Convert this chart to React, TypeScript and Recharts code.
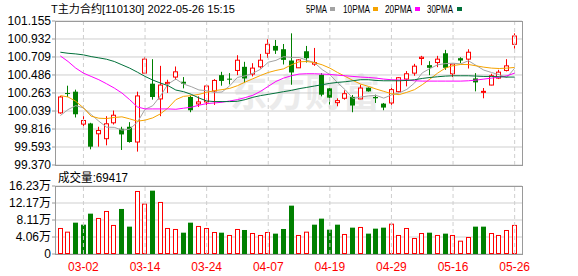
import React from 'react';
import { ComposedChart, BarChart, Bar, Line, XAxis, YAxis, CartesianGrid, ReferenceLine } from 'recharts';

const dates = ['02-25','02-28','03-01','03-02','03-03','03-04','03-07','03-08','03-09','03-10','03-11','03-14','03-15','03-16','03-17','03-18','03-21','03-22','03-23','03-24','03-25','03-28','03-29','03-30','03-31','04-01','04-06','04-07','04-08','04-11','04-12','04-13','04-14','04-15','04-18','04-19','04-20','04-21','04-22','04-25','04-26','04-27','04-28','04-29','05-05','05-06','05-09','05-10','05-11','05-12','05-13','05-16','05-17','05-18','05-19','05-20','05-23','05-24','05-25','05-26'];

const opens = [100.016,100.262,100.279,99.877,99.885,99.757,99.696,99.893,99.819,99.844,99.655,100.509,100.378,100.189,100.378,100.460,100.402,100.213,100.127,100.152,100.287,100.484,100.440,100.542,100.587,100.497,100.587,100.755,100.846,100.805,100.665,100.575,100.780,100.620,100.488,100.320,100.143,100.197,100.213,100.189,100.328,100.213,100.131,100.139,100.279,100.435,100.509,100.690,100.608,100.640,100.755,100.501,100.694,100.682,100.443,100.275,100.361,100.447,100.542,100.866];
const highs = [100.225,100.353,100.304,99.975,99.893,99.844,99.975,100.045,99.844,99.901,100.279,100.706,100.682,100.599,100.427,100.591,100.460,100.230,100.222,100.369,100.435,100.525,100.509,100.731,100.649,100.632,100.747,100.928,100.920,100.870,101.002,100.682,100.846,100.821,100.509,100.324,100.197,100.296,100.238,100.365,100.332,100.242,100.139,100.345,100.460,100.534,100.624,100.723,100.657,100.723,100.797,100.624,100.706,100.805,100.509,100.324,100.501,100.550,100.682,101.002];
const lows = [100.005,100.213,99.959,99.831,99.564,99.597,99.614,99.872,99.556,99.647,99.536,100.505,100.180,99.975,100.263,100.427,100.320,100.024,100.090,100.057,100.115,100.353,100.369,100.484,100.386,100.468,100.566,100.698,100.747,100.616,100.365,100.572,100.640,100.599,100.221,100.119,100.098,100.180,100.024,100.186,100.279,100.139,100.049,100.115,100.271,100.345,100.476,100.608,100.484,100.583,100.550,100.460,100.632,100.566,100.283,100.197,100.358,100.435,100.530,100.813];
const closes = [100.213,100.250,99.999,99.922,99.597,99.798,99.881,99.987,99.749,99.655,100.226,100.682,100.213,100.361,100.394,100.525,100.378,100.049,100.152,100.349,100.418,100.412,100.435,100.669,100.443,100.571,100.669,100.866,100.788,100.673,100.517,100.673,100.694,100.640,100.242,100.205,100.168,100.254,100.107,100.324,100.283,100.197,100.082,100.304,100.452,100.501,100.595,100.706,100.575,100.682,100.575,100.620,100.665,100.768,100.394,100.283,100.476,100.521,100.599,100.969];

const volumes = [62100,53300,74800,70000,96300,86000,102700,69300,107500,65300,150400,120200,151200,124200,62100,59700,50900,74800,66900,62100,52500,50900,45400,59700,57300,50100,45400,52500,48600,59700,115400,45400,53300,70000,84400,58100,70000,47800,62900,64500,48600,60500,62900,72400,45400,62100,38200,50100,50900,45400,48600,45400,31800,40600,65300,65300,50100,45400,57300,69417];

const ma5 = [99.983,100.057,100.106,100.078,99.996,99.913,99.839,99.837,99.802,99.814,99.900,100.060,100.105,100.227,100.375,100.435,100.374,100.341,100.300,100.291,100.270,100.275,100.352,100.456,100.475,100.507,100.557,100.644,100.667,100.713,100.703,100.703,100.669,100.639,100.553,100.491,100.390,100.302,100.195,100.212,100.227,100.233,100.199,100.238,100.264,100.307,100.387,100.512,100.566,100.612,100.627,100.632,100.623,100.662,100.604,100.546,100.517,100.488,100.455,100.570];
const ma10 = [100.230,100.213,100.160,100.078,99.975,99.950,99.946,99.959,99.967,99.942,99.913,99.926,99.954,100.004,100.078,100.180,100.221,100.230,100.246,100.271,100.291,100.304,100.320,100.353,100.398,100.439,100.480,100.517,100.542,100.562,100.612,100.649,100.653,100.640,100.612,100.571,100.517,100.468,100.418,100.373,100.345,100.312,100.283,100.254,100.242,100.271,100.304,100.365,100.435,100.509,100.571,100.603,100.616,100.616,100.599,100.583,100.571,100.566,100.571,100.579];
const ma20 = [100.722,100.653,100.571,100.509,100.468,100.427,100.377,100.324,100.262,100.180,100.090,100.065,100.065,100.065,100.065,100.061,100.074,100.086,100.111,100.131,100.139,100.148,100.164,100.180,100.205,100.234,100.283,100.345,100.406,100.447,100.476,100.497,100.501,100.501,100.497,100.493,100.484,100.476,100.468,100.460,100.455,100.447,100.435,100.427,100.423,100.423,100.414,100.410,100.410,100.410,100.410,100.410,100.410,100.414,100.423,100.435,100.447,100.460,100.476,100.509];
const ma30 = [100.768,100.755,100.747,100.735,100.714,100.698,100.681,100.653,100.612,100.571,100.521,100.468,100.423,100.386,100.353,100.299,100.279,100.246,100.201,100.164,100.156,100.156,100.156,100.160,100.180,100.209,100.230,100.246,100.262,100.279,100.295,100.316,100.332,100.349,100.365,100.382,100.394,100.402,100.414,100.427,100.427,100.418,100.414,100.414,100.414,100.418,100.427,100.443,100.455,100.464,100.472,100.476,100.476,100.476,100.472,100.468,100.468,100.464,100.460,100.460];

const priceTicks = [99.370, 99.593, 99.816, 100.039, 100.263, 100.486, 100.709, 100.932, 101.155];
const volTicks = [0, 40575, 81150, 121725, 162300];
const volTickLabels = ['0', '4.06万', '8.11万', '12.17万', '16.23万'];
const dateTicks = ['03-02', '03-14', '03-24', '04-07', '04-19', '04-29', '05-16', '05-26'];
const titleText = 'T主力合约[110130] 2022-05-26 15:15';
const legendNames = ['5PMA', '10PMA', '20PMA', '30PMA'];
const volumeLabel = '成交量';
const watermarkText = '东方财富';

const RED = '#ff0000';
const GREEN = '#008000';
const MA_COLORS = ['#a3a3a3', '#f5a300', '#ff00ff', '#00703a'];
const GRID = '#cfcfcf';
const BORDER = '#9a9a9a';
const FONT = "'Liberation Sans', 'Noto Sans CJK SC', sans-serif";

const rows = dates.map((d, i) => ({
  date: d,
  range: [lows[i], highs[i]],
  open: opens[i],
  high: highs[i],
  low: lows[i],
  close: closes[i],
  vol: volumes[i],
  volUp: i === 0 ? closes[0] >= opens[0] : closes[i] >= closes[i - 1],
  ma5: ma5[i],
  ma10: ma10[i],
  ma20: ma20[i],
  ma30: ma30[i],
}));

const Candle = (props: any) => {
  const { x, y, width, height, payload } = props;
  if (x == null || y == null || !payload) return null;
  const { open, close, high, low } = payload;
  const top = Math.min(y, y + height);
  const h = Math.abs(height);
  const py = (v: number) => top + ((high - v) / (high - low)) * h;
  const up = close >= open;
  const color = up ? RED : GREEN;
  const cx = Math.floor(x + width / 2) + 0.5;
  const bTop = py(Math.max(open, close));
  const bBot = py(Math.min(open, close));
  const left = cx - 2.5;
  return (
    <g>
      <line x1={cx} x2={cx} y1={top} y2={top + h} stroke={color} strokeWidth={1} />
      {up ? (
        <rect x={left + 0.5} y={bTop} width={4} height={Math.max(bBot - bTop, 1)} fill="#ffffff" stroke={color} strokeWidth={1} />
      ) : (
        <rect x={left} y={bTop} width={5} height={Math.max(bBot - bTop, 1)} fill={color} />
      )}
    </g>
  );
};

const VolBar = (props: any) => {
  const { x, y, width, height, payload } = props;
  if (x == null || y == null || !payload) return null;
  const top = Math.min(y, y + height);
  const h = Math.abs(height);
  const cx = Math.floor(x + width / 2) + 0.5;
  const left = cx - 2.5;
  if (payload.volUp) {
    return <rect x={left + 0.5} y={top + 0.5} width={4} height={Math.max(h - 1, 0)} fill="#ffffff" stroke={RED} strokeWidth={1} />;
  }
  return <rect x={left} y={top} width={5} height={h} fill={GREEN} />;
};

const xPadding = { left: 1.5, right: 3.5 };

export default function App() {
  const legendX = [306, 343, 385, 427];
  const legendW = [21, 27, 27, 26];
  const squareX = [330, 373, 415, 457];
  return (
    <div style={{ position: 'absolute', left: 0, top: 0, width: 578, height: 276, background: '#fff', overflow: 'hidden', fontFamily: FONT }}>
      <svg width={578} height={276} style={{ position: 'absolute', left: 0, top: 0 }}>
        <text x={230} y={106} fontSize={38} fontWeight="bold" fill="#ebebeb" fontFamily={FONT} textLength={150} lengthAdjust="spacingAndGlyphs">{watermarkText}</text>
      </svg>

      <div style={{ position: 'absolute', left: 0, top: 170 }}>
        <BarChart width={578} height={106} data={rows} margin={{ top: 16, right: 56, bottom: 0, left: 0 }}>
          <CartesianGrid vertical={false} stroke={GRID} />
          <XAxis
            dataKey="date"
            type="category"
            padding={xPadding}
            ticks={dateTicks}
            interval={0}
            height={22}
            axisLine={false}
            tickLine={false}
            tickSize={6}
            tickMargin={2}
            tick={{ fill: RED, fontSize: 12, fontFamily: FONT }}
          />
          <YAxis
            domain={[0, 162300]}
            ticks={volTicks}
            allowDataOverflow
            width={55}
            axisLine={false}
            tickLine={{ stroke: BORDER }}
            tickSize={3}
            tickMargin={1}
            tick={{ fill: '#000', fontSize: 12, fontFamily: FONT }}
            tickFormatter={(v: number) => volTickLabels[volTicks.indexOf(v)]}
            interval={0}
          />
          {dateTicks.map((d) => (
            <ReferenceLine key={d} x={d} stroke={GRID} strokeDasharray="4 3" />
          ))}
          <Bar dataKey="vol" barSize={5} shape={<VolBar />} isAnimationActive={false} />
        </BarChart>
      </div>

      <div style={{ position: 'absolute', left: 0, top: 0 }}>
        <ComposedChart width={578} height={178} data={rows} margin={{ top: 21, right: 56, bottom: 13, left: 0 }}>
          <CartesianGrid vertical={false} stroke={GRID} />
          <XAxis dataKey="date" type="category" hide padding={xPadding} />
          <YAxis
            domain={[99.37, 101.155]}
            ticks={priceTicks}
            allowDataOverflow
            width={55}
            axisLine={false}
            tickLine={{ stroke: BORDER }}
            tickSize={3}
            tickMargin={1}
            tick={{ fill: '#000', fontSize: 12, fontFamily: FONT }}
            tickFormatter={(v: number) => v.toFixed(3)}
            interval={0}
          />
          {dateTicks.map((d) => (
            <ReferenceLine key={d} x={d} stroke={GRID} strokeDasharray="4 3" />
          ))}
          <Bar dataKey="range" barSize={5} shape={<Candle />} isAnimationActive={false} />
          <Line dataKey="ma5" stroke={MA_COLORS[0]} strokeWidth={1} dot={false} activeDot={false} type="linear" isAnimationActive={false} />
          <Line dataKey="ma10" stroke={MA_COLORS[1]} strokeWidth={1} dot={false} activeDot={false} type="linear" isAnimationActive={false} />
          <Line dataKey="ma20" stroke={MA_COLORS[2]} strokeWidth={1} dot={false} activeDot={false} type="linear" isAnimationActive={false} />
          <Line dataKey="ma30" stroke={MA_COLORS[3]} strokeWidth={1} dot={false} activeDot={false} type="linear" isAnimationActive={false} />
        </ComposedChart>
      </div>

      <div style={{ position: 'absolute', left: 55, top: 21, width: 468, height: 145, border: `1px solid ${BORDER}`, boxSizing: 'border-box', pointerEvents: 'none' }} />
      <div style={{ position: 'absolute', left: 55, top: 186, width: 468, height: 69, border: `1px solid ${BORDER}`, boxSizing: 'border-box', pointerEvents: 'none' }} />

      <svg width={578} height={276} style={{ position: 'absolute', left: 0, top: 0, pointerEvents: 'none' }}>
        <text x={51} y={13} fontSize={11} fill="#000" fontFamily={FONT} textLength={184} lengthAdjust="spacingAndGlyphs">{titleText}</text>
        {legendNames.map((n, i) => (
          <g key={n}>
            <text x={legendX[i]} y={13} fontSize={11} fill="#000" fontFamily={FONT} textLength={legendW[i]} lengthAdjust="spacingAndGlyphs">{n}</text>
            <rect x={squareX[i]} y={7} width={5} height={4} fill={MA_COLORS[i]} />
          </g>
        ))}
        <text x={58} y={182} fontSize={12} fill="#000" fontFamily={FONT} textLength={70} lengthAdjust="spacingAndGlyphs">{`${volumeLabel}:${volumes[volumes.length - 1]}`}</text>
      </svg>
    </div>
  );
}
